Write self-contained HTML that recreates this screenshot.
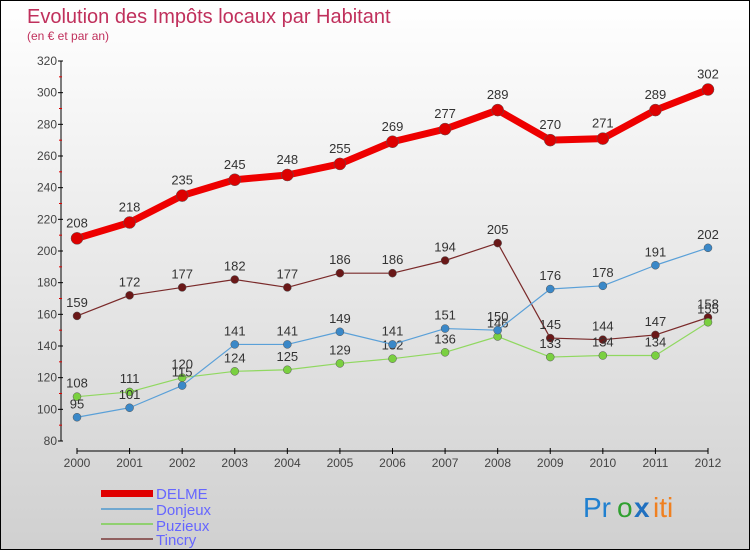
<!DOCTYPE html>
<html><head><meta charset="utf-8"><style>
body{margin:0;}
#wrap{position:relative;width:748px;height:548px;border:1px solid #000;background:linear-gradient(#ffffff,#d0d0d0);font-family:"Liberation Sans",sans-serif;overflow:hidden;}
svg text{font-family:"Liberation Sans",sans-serif;}
</style></head><body>
<div id="wrap">
<svg id="chart" width="748" height="548">
<text x="26" y="22" font-size="20" fill="#c0305c">Evolution des Impôts locaux par Habitant</text>
<text x="26" y="39" font-size="12" fill="#c0305c">(en € et par an)</text>
<g id="axes"></g><g id="series"></g>
<g>
<rect x="100" y="489" width="52" height="7" fill="#e00000"/>
<text x="155" y="498" font-size="15" fill="#6666ff">DELME</text>
<rect x="100" y="507" width="52" height="2" fill="#70a8d0"/>
<text x="155" y="514" font-size="15" fill="#6666ff">Donjeux</text>
<rect x="100" y="522" width="52" height="2" fill="#90d070"/>
<text x="155" y="530" font-size="15" fill="#6666ff">Puzieux</text>
<rect x="100" y="537" width="52" height="2" fill="#906060"/>
<text x="155" y="544" font-size="15" fill="#6666ff">Tincry</text>
</g>
<g font-size="28">
<text x="582" y="516" fill="#2080d0">Pr</text><text x="616" y="516" fill="#30a030">o</text><text x="633" y="516" fill="#2070c0" font-weight="bold">x</text><text x="652" y="516" fill="#f08020">iti</text>
</g>
</svg>
</div>
<script>
const years=["2000","2001","2002","2003","2004","2005","2006","2007","2008","2009","2010","2011","2012"];
const yTicks=[80,100,120,140,160,180,200,220,240,260,280,300,320];
const delme=[208,218,235,245,248,255,269,277,289,270,271,289,302];
const donjeux=[95,101,115,141,141,149,141,151,150,176,178,191,202];
const puzieux=[108,111,120,124,125,129,132,136,146,133,134,134,155];
const tincry=[159,172,177,182,177,186,186,194,205,145,144,147,158];
const NS="http://www.w3.org/2000/svg";
const X0=76,X1=707,Y0=440,Y1=60,VMIN=80,VMAX=320;
function xs(i){return X0+(X1-X0)*i/(years.length-1);}
function ys(v){return Y0-(v-VMIN)/(VMAX-VMIN)*(Y0-Y1);}
function mk(tag,attrs,parent){const e=document.createElementNS(NS,tag);for(const k in attrs)e.setAttribute(k,attrs[k]);parent.appendChild(e);return e;}
const ax=document.getElementById('axes');
let l=mk('line',{x1:60,y1:Y1,x2:60,y2:Y0,stroke:'#000','stroke-width':1},ax);


yTicks.forEach((v,i)=>{
 const t=mk('line',{x1:57,x2:62,y1:ys(v),y2:ys(v),stroke:'#000'},ax);
 
 
 if(i<yTicks.length-1){const m=mk('line',{x1:58,x2:61,y1:ys(v+10),y2:ys(v+10),stroke:'#e00000'},ax);
 
 }
 const tx=mk('text',{x:56,y:ys(v)+4,'font-size':12,fill:'#444','text-anchor':'end'},ax);
 tx.textContent=v;
 
 
});
l=mk('line',{x1:X0,y1:450,x2:X1,y2:450,stroke:'#000'},ax);


years.forEach((y,i)=>{
 const t=mk('line',{x1:xs(i),x2:xs(i),y1:447,y2:453,stroke:'#000'},ax);
 
 
 const tx=mk('text',{x:xs(i),y:466,'font-size':12,fill:'#444','text-anchor':'middle'},ax);
 tx.textContent=y;
 
 
});
const sg=document.getElementById('series');
function draw(name,vals,color,w,r,dot){
 const g=mk('g',{},sg);
 
 
 const p=mk('polyline',{points:vals.map((v,i)=>xs(i)+','+ys(v)).join(' '),fill:'none',stroke:color,'stroke-width':w,'stroke-linejoin':'round'},g);
 
 
 vals.forEach((v,i)=>{
  const c=mk('circle',{cx:xs(i),cy:ys(v),r:r,fill:dot,stroke:'#555','stroke-width':0.5},g);
  
  
  const t=mk('text',{x:xs(i),y:ys(v)-r-5,'font-size':13,fill:'#333','text-anchor':'middle'},g);
  t.textContent=v;
  
  
 });
}
draw('tincry',tincry,'#7a2a2a',1.2,4,'#6a1818');
draw('puzieux',puzieux,'#90d860',1.2,4,'#7ad040');
draw('donjeux',donjeux,'#5aa0d8',1.2,4,'#3a88c8');
draw('delme',delme,'#ee0000',7,6,'#dd0000');
</script>
</body></html>
